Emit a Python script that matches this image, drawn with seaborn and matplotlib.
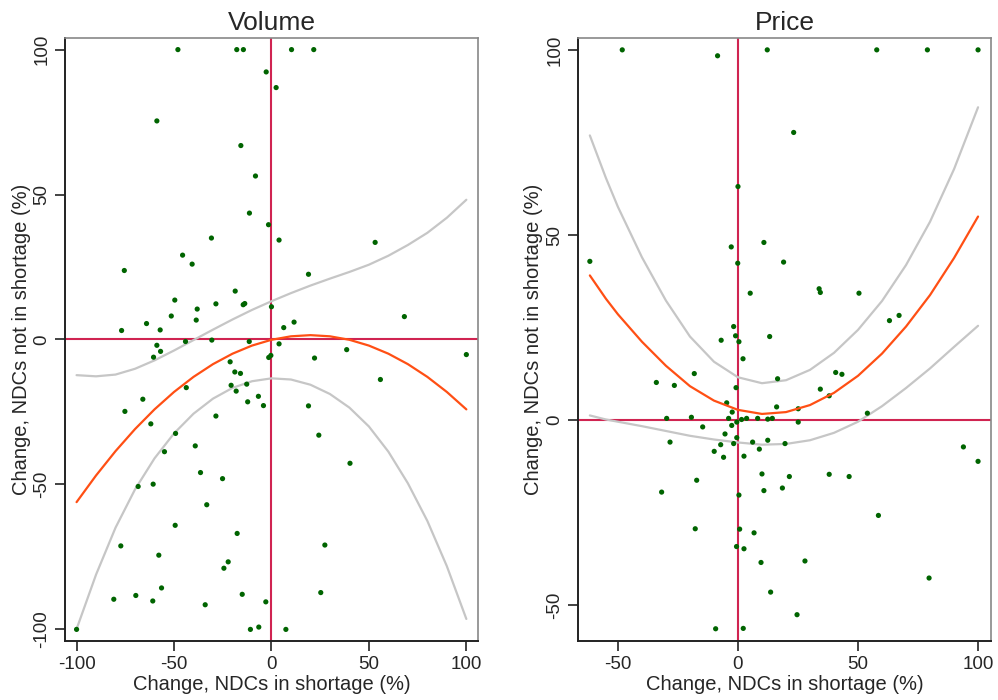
import numpy as np
import pandas as pd
import matplotlib
matplotlib.use("Agg")
import matplotlib.pyplot as plt
import seaborn as sns

sns.set_style("white")
plt.rcParams['font.family'] = ['Liberation Sans', 'DejaVu Sans']

# ---- scatter data ----
vol_x = [-48, -17.8, -14.4, -2.7, 2.4, -58.8, -15.7, -8.2, -11.3, -1.5, 10.3, 21.7,
         3.9, -30.8, -75.5, -45.6, -40.7, -18.6, -49.6, -28.5, -14.5, -13.7, -38.1, 0,
         -51.4, -38.6, -64.1, -76.9, -57.1, -44.1, -30.6, -11.4, 3.9, -58.8, -56.9, -60.5,
         -0.3, -1.4, -21.2, -18.8, -15.9, -20.7, -12.7, -43.7, -18.1, -6.7, -66.0, -12.2,
         -4.1, -75.2, -28.5, 53.2, 19.0, 68.2, 6.3, 11.6, 38.6, 22.1, 100, 55.9, 19.0,
         -61.9, -49.2, -54.9, -39.1, -36.4, -25.1, -60.7, -68.4, -33.2, -49.4, -17.6,
         -77.3, -57.8, -22.2, -24.4, -56.4, -15.0, -80.9, -69.6, -60.9, -34.0, -2.9,
         -100, -10.8, -6.5, 7.4, 24.3, 40.3, 27.4, 25.3]
vol_y = [100, 100, 100, 92.3, 86.9, 75.4, 66.9, 56.4, 43.6, 39.6, 100, 100,
         34.3, 35.0, 23.8, 29.1, 26.0, 16.7, 13.6, 12.3, 12.0, 12.4, 10.5, 11.3,
         8.1, 6.7, 5.5, 3.1, 3.3, -0.7, -0.2, -0.7, -1.5, -2.0, -4.1, -6.1,
         -5.5, -6.2, -7.7, -11.2, -11.7, -15.8, -15.4, -16.6, -17.8, -19.6, -20.6, -21.5,
         -22.8, -24.8, -26.4, 33.5, 22.5, 7.9, 4.1, 6.0, -3.5, -6.4, -5.2, -13.8, -22.9,
         -29.1, -32.4, -38.7, -36.7, -45.9, -48.0, -49.9, -50.7, -57.0, -64.1, -66.9,
         -71.2, -74.4, -76.7, -78.9, -85.7, -87.9, -89.6, -88.3, -90.2, -91.5, -90.5,
         -100, -100, -99.2, -100, -33.0, -42.7, -70.9, -87.3]

price_x = [-48.2, -8.5, 12.2, 0, 57.8, 78.9, 100, 23.2, -61.7, -2.8, 10.8, -0.1,
           19.0, 5.1, -1.8, -1.0, -7.0, 13.2, 0.4, 2.1, -18.2, -34.0, -26.5, 16.5,
           -0.8, -4.7, 16.1, -2.4, -29.7, -19.4, -3.9, 1.5, 3.6, 8.2, 12.4, 14.3,
           33.8, 34.3, 50.4, 63.1, 67.1, 40.7, 43.3, 34.3, 38.0, 25.1, 53.9,
           -14.7, -2.6, -0.5, -5.4, -0.5, -28.3, -7.2, -1.8, 6.1, 12.4, 19.6, 8.9,
           -9.9, -6.0, 2.5, 10.0, -17.2, 10.8, 18.5, -31.8, 0.4, -17.8, 0.7, 6.7,
           -0.6, 2.5, 9.6, 13.6, -9.3, 2.2, 25.1, 93.9, 100, 21.4, 38.0, 46.3,
           58.5, 27.9, 79.6, 24.6]
price_y = [100, 98.4, 100, 63.1, 100, 100, 100, 77.7, 42.9, 46.8, 48.0, 42.4,
           42.7, 34.3, 25.3, 22.8, 21.6, 22.6, 21.2, 16.6, 12.6, 10.2, 9.4, 11.2,
           8.8, 4.7, 3.6, 2.2, 0.5, 0.8, 0.5, 0.2, 0.5, 0.5, 0.3, 0.5,
           35.5, 34.5, 34.3, 26.9, 28.3, 12.9, 12.4, 8.4, 6.6, 3.1, 1.9,
           -1.8, -1.4, -0.5, -3.7, -4.7, -5.9, -6.6, -6.3, -5.9, -5.4, -6.3, -7.8,
           -8.4, -10.0, -9.7, -14.5, -16.2, -19.0, -18.3, -19.4, -20.2, -29.3, -29.4, -30.4,
           -34.1, -34.7, -38.4, -46.4, -56.3, -56.2, -0.5, -7.2, -11.1, -15.2, -14.6, -15.2,
           -25.7, -38.0, -42.6, -52.5]

# ---- fitted curve and confidence bounds ----
vol_cx = [-100, -90, -80, -70, -60, -50, -40, -30, -20, -10, 0, 10, 20, 30, 40, 50, 60, 70, 80, 90, 100]
vol_fit = [-56.1, -46.9, -38.5, -30.9, -24.1, -18.1, -12.9, -8.5, -4.9, -2.1, -0.1, 1.1, 1.5, 1.1, -0.1,
           -2.1, -4.9, -8.5, -12.9, -18.1, -24.1]
vol_hi = [-12.3, -12.7, -12.1, -10.1, -7.2, -3.8, -0.2, 3.4, 6.9, 10.2, 13.2, 16.0, 18.6, 21.0, 23.3,
          25.8, 28.9, 32.6, 36.8, 42.0, 48.2]
vol_lo = [-99.9, -81.1, -64.9, -51.7, -41.0, -32.4, -25.6, -20.4, -16.7, -14.4, -13.4, -13.8, -15.6,
          -18.8, -23.5, -30.0, -38.7, -49.6, -62.6, -78.2, -96.4]

price_cx = [-61.7, -55, -50, -40, -30, -20, -10, 0, 10, 20, 30, 40, 50, 60, 70, 80, 90, 100]
price_fit = [39.1, 32.8, 28.6, 21.2, 14.7, 9.2, 5.3, 2.8, 1.7, 2.2, 4.1, 7.4, 12.0, 18.0, 25.3, 33.8,
             43.8, 55.0]
price_hi = [76.9, 65.4, 57.6, 44.0, 32.3, 22.6, 15.8, 11.6, 10.0, 10.8, 13.6, 18.2, 24.4, 32.2, 41.9,
            53.6, 67.8, 84.5]
price_lo = [1.3, 0.2, -0.4, -1.6, -2.9, -4.2, -5.2, -6.0, -6.6, -6.4, -5.4, -3.4, -0.4, 3.8, 8.7, 14.0,
            19.8, 25.5]

titles = ["Volume", "Price"]
xlabel = "Change, NDCs in shortage (%)"
ylabel = "Change, NDCs not in shortage (%)"

GREEN = "#006400"
RED = "#d02451"
ORANGE = "#ff4f14"
GRAY = "#c6c6c6"

fig = plt.figure(figsize=(9.98, 7.0), dpi=100)
ax1 = fig.add_axes([0.065, 0.0843, 0.414, 0.8614])
ax2 = fig.add_axes([0.579, 0.0843, 0.414, 0.8614])

panels = [
    (ax1, vol_x, vol_y, vol_cx, vol_fit, vol_lo, vol_hi, (-106, 106), (-104, 104),
     [-100, -50, 0, 50, 100], [-100, -50, 0, 50, 100]),
    (ax2, price_x, price_y, price_cx, price_fit, price_lo, price_hi, (-66.7, 105.4), (-59.6, 103.2),
     [-50, 0, 50, 100], [-50, 0, 50, 100]),
]

for (ax, xs, ys, cx, cf, clo, chi, xl, yl, xt, yt), title in zip(panels, titles):
    df = pd.DataFrame({"x": xs, "y": ys})
    cdf = pd.DataFrame({"x": cx, "fit": cf, "lo": clo, "hi": chi})
    ax.axhline(0, color=RED, lw=1.5, zorder=1)
    ax.axvline(0, color=RED, lw=1.5, zorder=1)
    sns.lineplot(data=cdf, x="x", y="hi", ax=ax, color=GRAY, lw=1.6, zorder=2)
    sns.lineplot(data=cdf, x="x", y="lo", ax=ax, color=GRAY, lw=1.6, zorder=2)
    sns.scatterplot(data=df, x="x", y="y", ax=ax, color=GREEN, s=14, edgecolor="none", zorder=3)
    sns.lineplot(data=cdf, x="x", y="fit", ax=ax, color=ORANGE, lw=1.6, zorder=4)
    for ln in ax.get_lines():
        ln.set_solid_joinstyle("round")
    ax.set_xlim(*xl)
    ax.set_ylim(*yl)
    ax.set_xticks(xt)
    ax.set_yticks(yt)
    ax.set_xticklabels([str(v) for v in xt], fontsize=13.5)
    ax.set_yticklabels([str(v) for v in yt], fontsize=13.5, rotation=90, va="center")
    ax.tick_params(axis="both", direction="out", length=7, width=1.2, color="#222222", pad=3.5,
                   bottom=True, left=True)
    ax.set_xlabel(xlabel, fontsize=14.5, labelpad=2)
    ax.set_ylabel(ylabel, fontsize=14.5, labelpad=2)
    ax.set_title(title, fontsize=19, pad=6)
    for side in ["left", "bottom"]:
        ax.spines[side].set_color("#222222")
        ax.spines[side].set_linewidth(1.4)
    for side in ["top", "right"]:
        ax.spines[side].set_color("#888888")
        ax.spines[side].set_linewidth(1.2)
    ax.set_facecolor("white")

fig.savefig("out.png", dpi=100, facecolor="white")
